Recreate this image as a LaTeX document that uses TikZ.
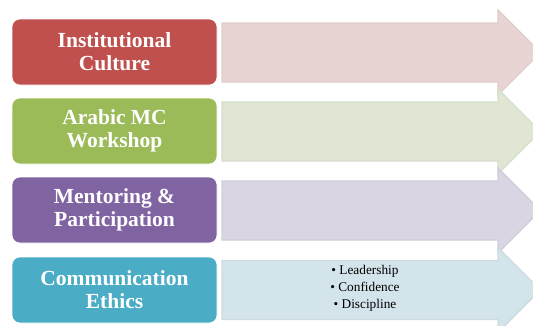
\documentclass[tikz,border=0pt]{standalone}
\usepackage{fontspec}
\setmainfont{Liberation Serif}
\definecolor{bred}{HTML}{C0504D}
\definecolor{bgreen}{HTML}{9BBB59}
\definecolor{bpurple}{HTML}{8064A2}
\definecolor{bblue}{HTML}{4BACC6}
\definecolor{ared}{HTML}{E9D4D4}
\definecolor{agreen}{HTML}{DFE7D4}
\definecolor{apurple}{HTML}{D9D5E3}
\definecolor{ablue}{HTML}{D3E4EA}
\begin{document}
\begin{tikzpicture}[x=1pt,y=-1pt,
  box/.style={rounded corners=8pt, minimum width=205pt, minimum height=66pt, inner sep=0pt,
    text=white, font=\fontsize{21.5}{23}\selectfont\bfseries, align=center, draw=white, line width=0.6pt},
  arr/.style={line width=1.2pt, line join=miter},
  bullets/.style={font=\fontsize{13.3}{17}\selectfont, align=center, text=black, inner sep=0pt}]
\useasboundingbox (0,0) rectangle (533,325);
\begin{scope}
\clip (0,0) rectangle (533,325);
\foreach \c/\col in {52.5/ared, 131.5/agreen, 210.5/apurple, 290/ablue}{
  \draw[arr, fill=\col, draw=\col!96!black]
    (222,\c-29.5) -- (498,\c-29.5) -- (498,\c-42.5) -- (540.5,\c)
    -- (498,\c+42.5) -- (498,\c+29.5) -- (222,\c+29.5) -- cycle;
}
\end{scope}
\node[box, fill=bred] (b1) at (114.5,52) {Institutional\\Culture};
\node[box, fill=bgreen] (b2) at (114.5,131) {Arabic MC\\Workshop};
\node[box, fill=bpurple] (b3) at (114.5,210) {Mentoring \&\\Participation};
\node[box, fill=bblue] (b4) at (114.5,290) {Communication\\Ethics};
\node[bullets] (list) at (365,288.5) {\textbullet\ Leadership\\\textbullet\ Confidence\\\textbullet\ Discipline};
\end{tikzpicture}
\end{document}
